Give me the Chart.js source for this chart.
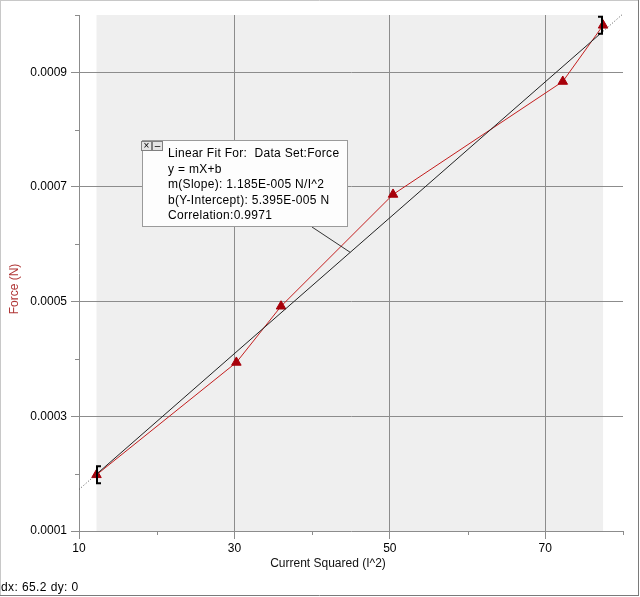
<!DOCTYPE html>
<html><head><meta charset="utf-8">
<script src="https://cdn.jsdelivr.net/npm/chart.js@4.4.1/dist/chart.umd.min.js"></script>
<style>html,body{margin:0;padding:0;background:#fff;overflow:hidden}canvas{display:block}</style>
</head><body>
<canvas id="c" width="640" height="597"></canvas>
<script>
// ---- data ----
const currentSquared = [12.25, 30.25, 36.0, 50.41, 72.25, 77.44];
const force = [0.000198, 0.000394, 0.000492, 0.000687, 0.000884, 0.000982];
const xTickLabels = [10, 30, 50, 70];
const yTickLabels = ['0.0001', '0.0003', '0.0005', '0.0007', '0.0009'];
const fitSlope = 1.185e-5;
const fitIntercept = 5.395e-5;
const fitPointerX = 44.9;
const fitText = ['Linear Fit For:  Data Set:Force', 'y = mX+b', 'm(Slope): 1.185E-005 N/I^2', 'b(Y-Intercept): 5.395E-005 N', 'Correlation:0.9971'];
const statusText = 'dx: 65.2 dy: 0';
const xTitle = 'Current Squared (I^2)';
const yTitle = 'Force (N)';
const xRange = [10, 80];
const yRange = [0.0001, 0.001];
const xStep = 10;
const yStep = 0.0001;

// ---- styling ----
const GRID = '#8c8c8c';
const CLEAR = 'rgba(0,0,0,0)';
const FONT = "'Liberation Sans', Arial, sans-serif";
const fit = v => fitSlope * v + fitIntercept;
const xFirst = currentSquared[0], xLast = currentSquared[currentSquared.length - 1];

const xLabel = v => xTickLabels.includes(Math.round(v)) ? String(Math.round(v)) : '';
const yLabel = v => { const s = Number(v).toFixed(4); return yTickLabels.includes(s) ? s : ''; };

const decor = {
  id: 'decor',
  beforeDraw(chart) {
    const { ctx, chartArea: a, scales: { x } } = chart;
    ctx.save();
    ctx.fillStyle = '#fff';
    ctx.fillRect(0, 0, chart.width, chart.height);
    const l = x.getPixelForValue(xFirst), r = x.getPixelForValue(xLast);
    ctx.fillStyle = '#efefef';
    ctx.fillRect(l, a.top, r - l, a.bottom - a.top);
    ctx.restore();
  },
  afterDatasetsDraw(chart) {
    const { ctx, scales: { x, y } } = chart;
    ctx.save();
    // selection brackets at first and last points
    ctx.strokeStyle = '#000';
    ctx.lineWidth = 2;
    const bracket = (px, py, dir) => {
      const h = 8.5;
      ctx.beginPath();
      ctx.moveTo(px + dir * 4, py - h);
      ctx.lineTo(px, py - h);
      ctx.lineTo(px, py + h);
      ctx.lineTo(px + dir * 4, py + h);
      ctx.stroke();
    };
    bracket(Math.round(x.getPixelForValue(xFirst)) + 1, y.getPixelForValue(force[0]), 1);
    bracket(Math.round(x.getPixelForValue(xLast)) - 1, y.getPixelForValue(force[force.length - 1]), -1);

    // annotation box
    const bx = 142, by = 140, bw = 206, bh = 87;
    // connector
    ctx.strokeStyle = '#333';
    ctx.lineWidth = 1;
    ctx.beginPath();
    ctx.moveTo(312, by + bh);
    ctx.lineTo(x.getPixelForValue(fitPointerX), y.getPixelForValue(fit(fitPointerX)));
    ctx.stroke();

    ctx.fillStyle = '#fdfdfd';
    ctx.fillRect(bx, by, bw, bh);
    ctx.strokeStyle = '#9a9a9a';
    ctx.strokeRect(bx + 0.5, by + 0.5, bw - 1, bh - 1);
    // buttons
    const btn = (bxx, glyph) => {
      ctx.fillStyle = '#e4e4e4';
      ctx.fillRect(bxx, by + 1, 11, 10);
      ctx.strokeStyle = '#808080';
      ctx.strokeRect(bxx + 0.5, by + 1.5, 10, 9);
      ctx.fillStyle = '#000';
      ctx.font = '10px ' + FONT;
      ctx.textAlign = 'center';
      ctx.textBaseline = 'middle';
      ctx.fillText(glyph, bxx + 5.5, by + 6);
    };
    btn(141, '×');
    btn(152, '–');
    ctx.fillStyle = '#000';
    ctx.font = '12px ' + FONT;
    ctx.textAlign = 'left';
    ctx.textBaseline = 'middle';
    if ('letterSpacing' in ctx) ctx.letterSpacing = '0.3px';
    fitText.forEach((t, i) => ctx.fillText(t, 168, 154 + i * 15.5));
    if ('letterSpacing' in ctx) ctx.letterSpacing = '0px';
    ctx.restore();
  },
  afterDraw(chart) {
    const { ctx, chartArea: a, scales: { x, y } } = chart;
    ctx.save();
    ctx.strokeStyle = GRID;
    ctx.lineWidth = 1;
    // minor ticks
    x.ticks.forEach(t => {
      if (xLabel(t.value) === '') {
        const px = Math.round(x.getPixelForValue(t.value)) + 0.5;
        ctx.beginPath(); ctx.moveTo(px, a.bottom); ctx.lineTo(px, a.bottom + 4); ctx.stroke();
      }
    });
    y.ticks.forEach(t => {
      if (yLabel(t.value) === '') {
        const py = Math.round(y.getPixelForValue(t.value)) + 0.5;
        ctx.beginPath(); ctx.moveTo(a.left - 4, py); ctx.lineTo(a.left, py); ctx.stroke();
      }
    });
    // axis titles
    ctx.font = '12px ' + FONT;
    ctx.textAlign = 'center';
    ctx.textBaseline = 'middle';
    ctx.fillStyle = '#111';
    ctx.fillText(xTitle, 328, 564);
    ctx.save();
    ctx.translate(14.5, 289);
    ctx.rotate(-Math.PI / 2);
    ctx.fillStyle = '#b03636';
    ctx.fillText(yTitle, 0, 0);
    ctx.restore();
    // status line
    ctx.textAlign = 'left';
    ctx.fillStyle = '#000';
    if ('letterSpacing' in ctx) ctx.letterSpacing = '0.4px';
    ctx.fillText(statusText, 1, 588);
    if ('letterSpacing' in ctx) ctx.letterSpacing = '0px';
    // frame
    ctx.strokeStyle = '#c8c8c8';
    ctx.beginPath(); ctx.moveTo(0, 0.5); ctx.lineTo(639, 0.5); ctx.moveTo(0.5, 0); ctx.lineTo(0.5, 596); ctx.stroke();
    ctx.strokeStyle = '#7a7a7a';
    ctx.beginPath(); ctx.moveTo(638.5, 0); ctx.lineTo(638.5, 596); ctx.moveTo(0, 595.5); ctx.lineTo(639, 595.5); ctx.stroke();
    ctx.restore();
  }
};

const data = {
  datasets: [
    {
      label: 'fit-left',
      data: [{ x: xRange[0], y: fit(xRange[0]) }, { x: xFirst, y: fit(xFirst) }],
      showLine: true, borderColor: '#555', borderWidth: 1, borderDash: [1, 2], pointRadius: 0, clip: 3
    },
    {
      label: 'fit-right',
      data: [{ x: xLast, y: fit(xLast) }, { x: xRange[1], y: fit(xRange[1]) }],
      showLine: true, borderColor: '#555', borderWidth: 1, borderDash: [1, 2], pointRadius: 0, clip: 3
    },
    {
      label: 'fit',
      data: [{ x: xFirst, y: fit(xFirst) }, { x: xLast, y: fit(xLast) }],
      showLine: true, borderColor: '#222', borderWidth: 1, pointRadius: 0
    },
    {
      label: 'Force',
      data: currentSquared.map((v, i) => ({ x: v, y: force[i] })),
      showLine: true, borderColor: '#c41e1e', borderWidth: 1,
      pointStyle: 'triangle', pointRadius: 5.5,
      pointBackgroundColor: '#a8000a', pointBorderColor: '#a8000a', pointBorderWidth: 1
    }
  ]
};

const tickFont = { family: FONT, size: 12 };
new Chart(document.getElementById('c'), {
  type: 'scatter',
  data,
  plugins: [decor],
  options: {
    responsive: false,
    animation: false,
    devicePixelRatio: 1,
    layout: { padding: { top: 15, right: 17, left: 0, bottom: 0 } },
    plugins: { legend: { display: false }, tooltip: { enabled: false } },
    scales: {
      x: {
        type: 'linear', min: xRange[0], max: xRange[1],
        afterFit: s => { s.height = 66; },
        afterBuildTicks: s => {
          const t = [];
          for (let v = xRange[0]; v <= xRange[1] + 1e-9; v += xStep) t.push({ value: v });
          s.ticks = t;
        },
        ticks: { callback: v => xLabel(v), color: '#000', font: tickFont, padding: 2, autoSkip: false, maxRotation: 0 },
        grid: {
          color: c => (c.tick && xLabel(c.tick.value) !== '' && Math.round(c.tick.value) !== xRange[0]) ? GRID : CLEAR,
          tickColor: c => (c.tick && xLabel(c.tick.value) !== '') ? GRID : CLEAR,
          tickLength: 8, lineWidth: 1
        },
        border: { color: GRID, width: 1 }
      },
      y: {
        type: 'linear', min: yRange[0], max: yRange[1],
        afterFit: s => { s.width = 79; },
        afterBuildTicks: s => {
          const t = [];
          const n = Math.round((yRange[1] - yRange[0]) / yStep);
          for (let i = 0; i <= n; i++) t.push({ value: yRange[0] + i * yStep });
          s.ticks = t;
        },
        ticks: { callback: v => yLabel(v), color: '#000', font: tickFont, padding: 4, autoSkip: false },
        grid: {
          color: c => (c.tick && yLabel(c.tick.value) !== '' && yLabel(c.tick.value) !== yTickLabels[0]) ? GRID : CLEAR,
          tickColor: c => (c.tick && yLabel(c.tick.value) !== '') ? GRID : CLEAR,
          tickLength: 8, lineWidth: 1
        },
        border: { color: GRID, width: 1 }
      }
    }
  }
});
</script>
</body></html>
